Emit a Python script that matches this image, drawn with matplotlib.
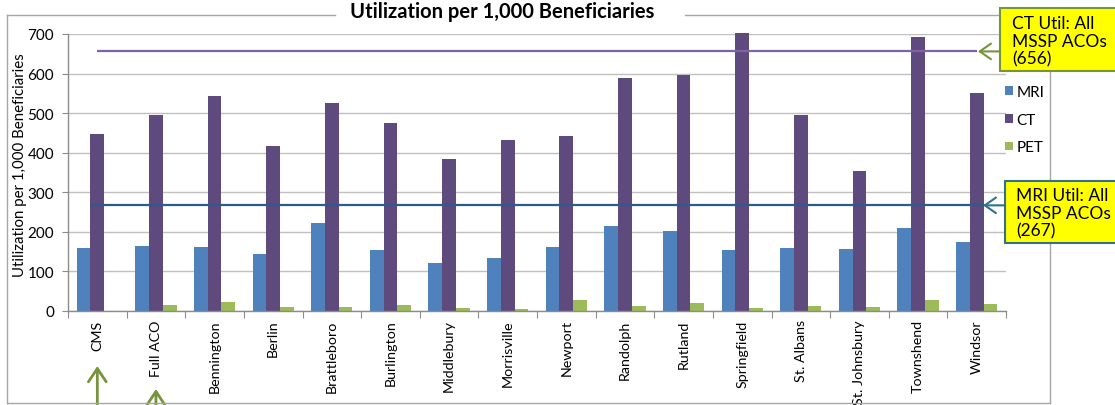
import matplotlib
matplotlib.use('Agg')
import matplotlib.pyplot as plt
import matplotlib.transforms as mtransforms
from matplotlib.lines import Line2D
from matplotlib.patches import Rectangle
import numpy as np

# ---- data ----
categories = ['CMS', 'Full ACO', 'Bennington', 'Berlin', 'Brattleboro', 'Burlington',
              'Middlebury', 'Morrisville', 'Newport', 'Randolph', 'Rutland',
              'Springfield', 'St. Albans', 'St. Johnsbury', 'Townshend', 'Windsor']
mri = [158, 163, 162, 145, 222, 153, 121, 134, 162, 215, 203, 153, 158, 157, 209, 175]
ct = [447, 496, 544, 416, 526, 475, 385, 433, 443, 588, 597, 703, 495, 354, 693, 550]
pet = [0, 14, 22, 10, 10, 15, 8, 4, 27, 13, 20, 8, 13, 11, 27, 17]
ct_benchmark = 656
mri_benchmark = 267
yticks = [0, 100, 200, 300, 400, 500, 600, 700]
title = 'Utilization per 1,000 Beneficiaries'
ylabel = 'Utilization per 1,000 Beneficiaries'

plt.rcParams['font.family'] = ['Lato', 'DejaVu Sans']

W, H = 1115, 406
fig = plt.figure(figsize=(W / 100, H / 100), dpi=100)
fig.patch.set_facecolor('white')


def fx(x):
    return x / W


def fy(y):
    return 1 - y / H


ax = fig.add_axes([fx(68), fy(312), fx(1006) - fx(68), fy(35) - fy(312)])

C_MRI = '#4F81BD'
C_CT = '#5F4A7E'
C_PET = '#9BBB59'
C_CTLINE = '#7E62A6'
C_MRILINE = '#2F5A8C'
C_GREEN = '#77933C'
C_BLUEBOX = '#31708F'
C_FRAME = '#A6A6A6'

x = np.arange(len(categories))
bw = 0.235
b1 = ax.bar(x - bw, mri, bw, color=C_MRI, label='MRI', zorder=2, clip_on=False)
b2 = ax.bar(x, ct, bw, color=C_CT, label='CT', zorder=2, clip_on=False)
b3 = ax.bar(x + bw, pet, bw, color=C_PET, label='PET', zorder=2, clip_on=False)

ax.set_xlim(-0.5, len(categories) - 0.5)
ax.set_ylim(0, 700)
ax.set_yticks(yticks)
ax.yaxis.grid(True, color='#C0C0C0', lw=1)
ax.set_axisbelow(True)
for s in ['top', 'right']:
    ax.spines[s].set_visible(False)
for s in ['left', 'bottom']:
    ax.spines[s].set_color('#8C8C8C')
    ax.spines[s].set_linewidth(1)

# x ticks: marks at boundaries, labels at centers
ax.set_xticks(np.arange(len(categories) + 1) - 0.5)
ax.set_xticklabels([])
ax.set_xticks(x, minor=True)
ax.set_xticklabels(categories, minor=True, rotation=90, fontsize=10.3)
ax.tick_params(axis='x', which='major', length=5, color='#8C8C8C', direction='out')
ax.tick_params(axis='x', which='minor', length=0, pad=6)
ax.tick_params(axis='y', length=4, color='#8C8C8C', labelsize=11, pad=6)

# benchmark lines
ax.hlines(ct_benchmark, 0, len(categories) - 1, color=C_CTLINE, lw=1.6, zorder=3)
ax.hlines(mri_benchmark, -0.12, len(categories) - 0.88, color=C_MRILINE, lw=1.6, zorder=3)

# legend
ax.legend(handles=[b1, b2, b3], loc='upper left', bbox_to_anchor=(fx(1005), fy(86)),
          bbox_transform=fig.transFigure, frameon=False, fontsize=11,
          handlelength=0.5, handleheight=0.5, handletextpad=0.25,
          labelspacing=0.9, borderpad=0, borderaxespad=0)

# title and y label
fig.text(fx(502), fy(12), title, ha='center', va='center', fontsize=14.5,
         fontweight='bold')
fig.text(fx(20), fy(165), ylabel, ha='center', va='center', rotation=90,
         fontsize=10.8)

# outer frame
frame_kw = dict(color=C_FRAME, lw=1, transform=fig.transFigure)
fig.add_artist(Line2D([fx(7), fx(335)], [fy(16), fy(16)], **frame_kw))
fig.add_artist(Line2D([fx(685), fx(1050)], [fy(16), fy(16)], **frame_kw))
fig.add_artist(Line2D([fx(7), fx(7)], [fy(16), fy(404)], **frame_kw))
fig.add_artist(Line2D([fx(7), fx(1050)], [fy(404), fy(404)], **frame_kw))
fig.add_artist(Line2D([fx(1050), fx(1050)], [fy(16), fy(404)], **frame_kw))

# annotation boxes
fig.add_artist(Rectangle((fx(1000), fy(72)), fx(130), 63 / H, transform=fig.transFigure,
                         facecolor='#FFFF00', edgecolor=C_GREEN, lw=1.5, zorder=5))
fig.text(fx(1012), fy(16), f'CT Util: All\nMSSP ACOs\n({ct_benchmark})', ha='left', va='top',
         fontsize=12.5, linespacing=1.12, zorder=6)
fig.add_artist(Rectangle((fx(1005), fy(244)), fx(130), 62 / H, transform=fig.transFigure,
                         facecolor='#FFFF00', edgecolor=C_BLUEBOX, lw=1.5, zorder=5))
fig.text(fx(1016), fy(188), f'MRI Util: All\nMSSP ACOs\n({mri_benchmark})', ha='left', va='top',
         fontsize=12.5, linespacing=1.12, zorder=6)

# callout arrows
bt = mtransforms.blended_transform_factory(fig.transFigure, ax.transData)
ax.annotate('', xy=(fx(978), ct_benchmark), xycoords=bt,
            xytext=(fx(1000), ct_benchmark), textcoords=bt,
            arrowprops=dict(arrowstyle='->,head_length=0.5,head_width=0.35',
                            color=C_GREEN, lw=1.5, mutation_scale=16,
                            shrinkA=0, shrinkB=0), annotation_clip=False)
ax.annotate('', xy=(fx(983), mri_benchmark), xycoords=bt,
            xytext=(fx(1005), mri_benchmark), textcoords=bt,
            arrowprops=dict(arrowstyle='->,head_length=0.5,head_width=0.35',
                            color=C_BLUEBOX, lw=1.5, mutation_scale=16,
                            shrinkA=0, shrinkB=0), annotation_clip=False)

# up arrows under CMS and Full ACO
bt2 = mtransforms.blended_transform_factory(ax.transData, fig.transFigure)
for idx, tip in [(0, 367), (1, 390)]:
    ax.annotate('', xy=(idx, fy(tip)), xycoords=bt2,
                xytext=(idx, fy(412)), textcoords=bt2,
                arrowprops=dict(arrowstyle='->,head_length=0.6,head_width=0.4',
                                color=C_GREEN, lw=2, mutation_scale=16,
                                shrinkA=0, shrinkB=0), annotation_clip=False)

fig.savefig('out.png', dpi=100)
